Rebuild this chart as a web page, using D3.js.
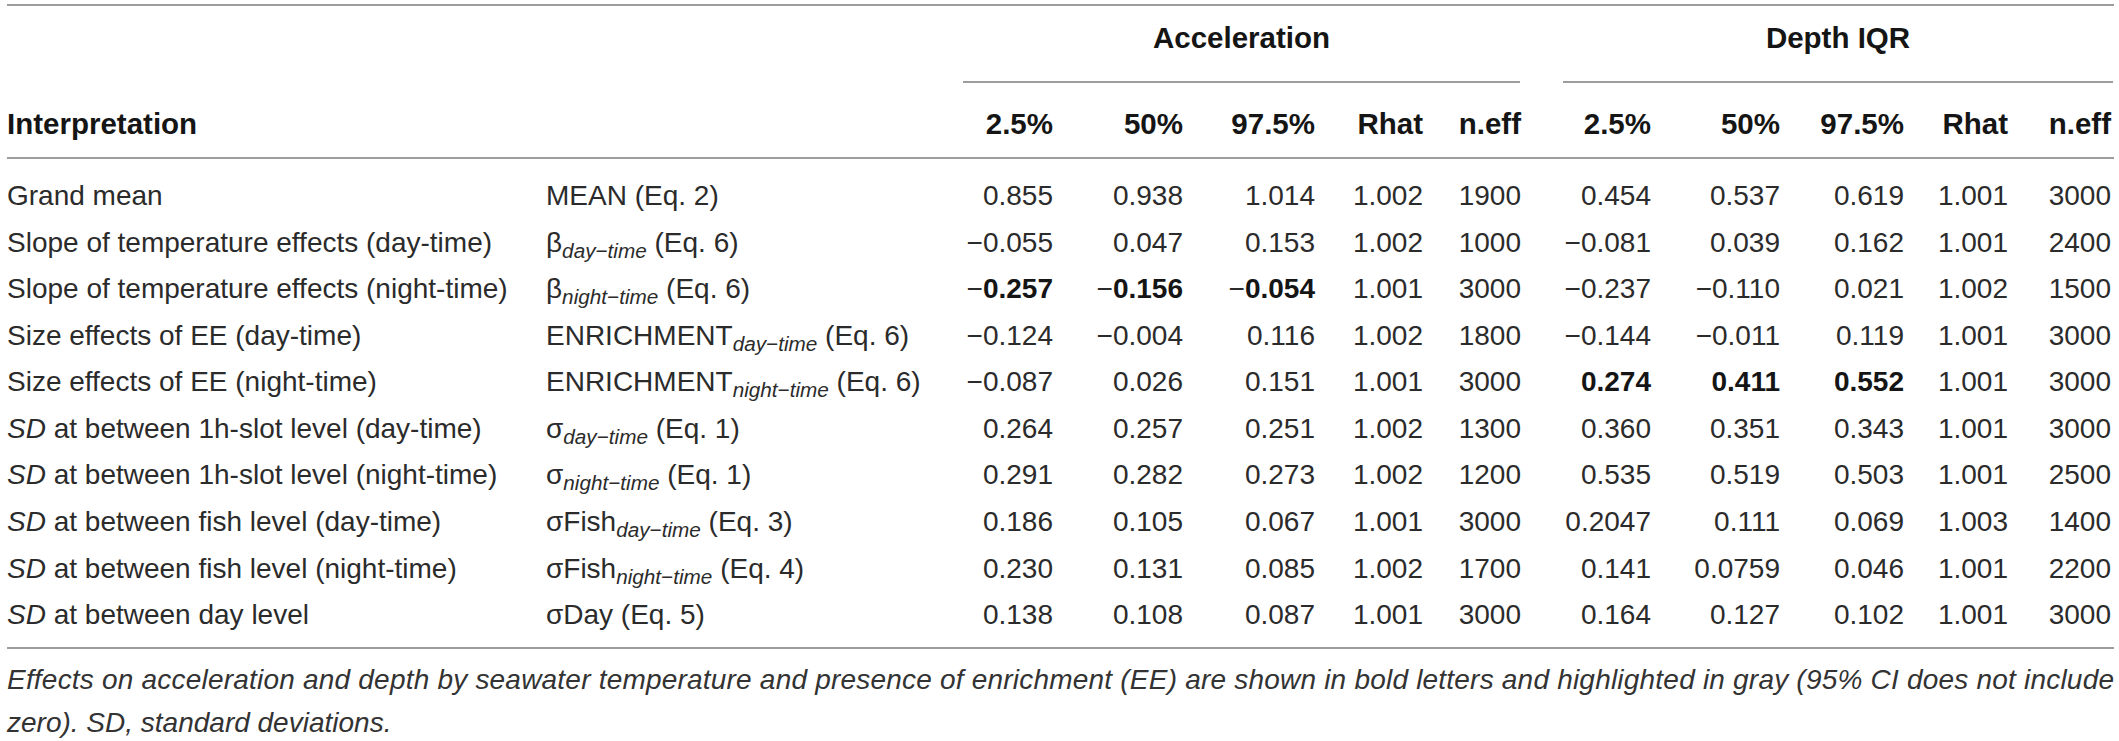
<!DOCTYPE html>
<html lang="en">
<head>
<meta charset="UTF-8">
<title>Posterior estimates table</title>
<script src="https://d3js.org/d3.v7.min.js"></script>
<style>
  body { margin: 0; background: #fff; }
  svg { display: block; font-family: "Liberation Sans", Arial, sans-serif; }
</style>
</head>
<body>
<svg id="table" width="2119" height="741"></svg>
<script>
const groups = ["Acceleration", "Depth IQR"];
const statLabels = ["2.5%", "50%", "97.5%", "Rhat", "n.eff"];

const interpretation = [
  "Grand mean",
  "Slope of temperature effects (day-time)",
  "Slope of temperature effects (night-time)",
  "Size effects of EE (day-time)",
  "Size effects of EE (night-time)",
  "SD at between 1h-slot level (day-time)",
  "SD at between 1h-slot level (night-time)",
  "SD at between fish level (day-time)",
  "SD at between fish level (night-time)",
  "SD at between day level"
];
const paramBase = ["MEAN", "β", "β", "ENRICHMENT", "ENRICHMENT", "σ", "σ", "σFish", "σFish", "σDay"];
const paramSub = ["", "day−time", "night−time", "day−time", "night−time", "day−time", "night−time", "day−time", "night−time", ""];
const paramEq = ["(Eq. 2)", "(Eq. 6)", "(Eq. 6)", "(Eq. 6)", "(Eq. 6)", "(Eq. 1)", "(Eq. 1)", "(Eq. 3)", "(Eq. 4)", "(Eq. 5)"];

const accLow  = ["0.855", "−0.055", "−0.257", "−0.124", "−0.087", "0.264", "0.291", "0.186", "0.230", "0.138"];
const accMid  = ["0.938", "0.047", "−0.156", "−0.004", "0.026", "0.257", "0.282", "0.105", "0.131", "0.108"];
const accHigh = ["1.014", "0.153", "−0.054", "0.116", "0.151", "0.251", "0.273", "0.067", "0.085", "0.087"];
const accRhat = ["1.002", "1.002", "1.001", "1.002", "1.001", "1.002", "1.002", "1.001", "1.002", "1.001"];
const accNeff = ["1900", "1000", "3000", "1800", "3000", "1300", "1200", "3000", "1700", "3000"];

const depLow  = ["0.454", "−0.081", "−0.237", "−0.144", "0.274", "0.360", "0.535", "0.2047", "0.141", "0.164"];
const depMid  = ["0.537", "0.039", "−0.110", "−0.011", "0.411", "0.351", "0.519", "0.111", "0.0759", "0.127"];
const depHigh = ["0.619", "0.162", "0.021", "0.119", "0.552", "0.343", "0.503", "0.069", "0.046", "0.102"];
const depRhat = ["1.001", "1.001", "1.002", "1.001", "1.001", "1.001", "1.001", "1.003", "1.001", "1.001"];
const depNeff = ["3000", "2400", "1500", "3000", "3000", "3000", "2500", "1400", "2200", "3000"];

// cells whose 95% CI excludes zero (row index, group)
const highlighted = [[2, "Acceleration"], [4, "Depth IQR"]];

const captionLines = [
  "Effects on acceleration and depth by seawater temperature and presence of enrichment (EE) are shown in bold letters and highlighted in gray (95% CI does not include",
  "zero). SD, standard deviations."
];

// --- layout ---
const svg = d3.select("#table");
const left = 7, right = 2114;
const fs = 28, fsHead = 29.5;
const ink = "#2b2b2b", rule = "#7d7d7d";

const columns = [
  { group: "Acceleration", vals: [accLow, accMid, accHigh, accRhat, accNeff] },
  { group: "Depth IQR", vals: [depLow, depMid, depHigh, depRhat, depNeff] }
];
const colKeys = [];
columns.forEach(c => statLabels.forEach(s => colKeys.push(c.group + "|" + s)));

// right edges of the numeric columns
const x = d3.scaleOrdinal()
  .domain(colKeys)
  .range([1053, 1183, 1315, 1423, 1521, 1651, 1780, 1904, 2008, 2111]);
const groupSpan = d3.scaleOrdinal().domain(groups).range([[963, 1520], [1563, 2113]]);

const y = d3.scalePoint()
  .domain(d3.range(interpretation.length))
  .range([195, 614]);

const base = fs * 0.36;

// rules
const hline = (x1, x2, yy) => svg.append("line")
  .attr("x1", x1).attr("x2", x2).attr("y1", yy).attr("y2", yy)
  .attr("stroke", rule).attr("stroke-width", 1.6);
hline(left, right, 5);
groups.forEach(g => hline(groupSpan(g)[0], groupSpan(g)[1], 82));
hline(left, right, 158);
hline(left, right, 648);

// group headers
svg.selectAll("text.group").data(groups).join("text")
  .attr("class", "group")
  .attr("x", g => (groupSpan(g)[0] + groupSpan(g)[1]) / 2)
  .attr("y", 37 + fsHead * 0.36)
  .attr("text-anchor", "middle")
  .attr("font-weight", "bold").attr("font-size", fsHead).attr("fill", "#151515")
  .text(g => g);

// column headers
svg.append("text")
  .attr("x", left).attr("y", 123 + fsHead * 0.36)
  .attr("font-weight", "bold").attr("font-size", fsHead).attr("fill", "#151515")
  .text("Interpretation");

svg.selectAll("text.colhead").data(colKeys).join("text")
  .attr("class", "colhead")
  .attr("x", d => x(d))
  .attr("y", 123 + fsHead * 0.36)
  .attr("text-anchor", "end")
  .attr("font-weight", "bold").attr("font-size", fsHead).attr("fill", "#151515")
  .text(d => d.split("|")[1]);

// interpretation column
svg.selectAll("text.interp").data(interpretation).join("text")
  .attr("class", "interp")
  .attr("x", left)
  .attr("y", (d, i) => y(i) + base)
  .attr("font-size", fs).attr("fill", ink)
  .each(function(d) {
    const t = d3.select(this);
    if (d.startsWith("SD ")) {
      t.append("tspan").attr("font-style", "italic").text("SD");
      t.append("tspan").text(d.slice(2));
    } else {
      t.text(d);
    }
  });

// parameter column
svg.selectAll("text.param").data(paramBase).join("text")
  .attr("class", "param")
  .attr("x", 546)
  .attr("y", (d, i) => y(i) + base)
  .attr("font-size", fs).attr("fill", ink)
  .each(function(d, i) {
    const t = d3.select(this);
    t.append("tspan").text(d);
    if (paramSub[i]) {
      t.append("tspan").attr("font-style", "italic").attr("font-size", fs * 0.74)
        .attr("dy", 6).text(paramSub[i]);
      t.append("tspan").attr("dy", -6).text(" " + paramEq[i]);
    } else {
      t.append("tspan").text(" " + paramEq[i]);
    }
  });

// numeric cells
const isBold = (row, group, stat) =>
  stat < 3 && highlighted.some(h => h[0] === row && h[1] === group);

const cells = [];
columns.forEach(c => c.vals.forEach((arr, s) => arr.forEach((v, r) => {
  cells.push({ key: c.group + "|" + statLabels[s], row: r, value: v, bold: isBold(r, c.group, s) });
})));

svg.selectAll("text.cell").data(cells).join("text")
  .attr("class", "cell")
  .attr("x", d => x(d.key))
  .attr("y", d => y(d.row) + base)
  .attr("text-anchor", "end")
  .attr("font-size", fs).attr("fill", ink)
  .each(function(d) {
    const t = d3.select(this);
    if (d.bold) {
      const neg = d.value.startsWith("−");
      if (neg) t.append("tspan").text("−");
      t.append("tspan").attr("font-weight", "bold").attr("fill", "#151515")
        .text(neg ? d.value.slice(1) : d.value);
    } else {
      t.text(d.value);
    }
  });

// footnote
svg.selectAll("text.caption").data(captionLines).join("text")
  .attr("class", "caption")
  .attr("x", left)
  .attr("y", (d, i) => 679 + i * 43 + base)
  .attr("font-size", fs).attr("font-style", "italic").attr("fill", "#333")
  .each(function(d, i) {
    if (i === 0) d3.select(this).attr("textLength", right - left).attr("lengthAdjust", "spacing");
  })
  .text(d => d);
</script>
</body>
</html>
